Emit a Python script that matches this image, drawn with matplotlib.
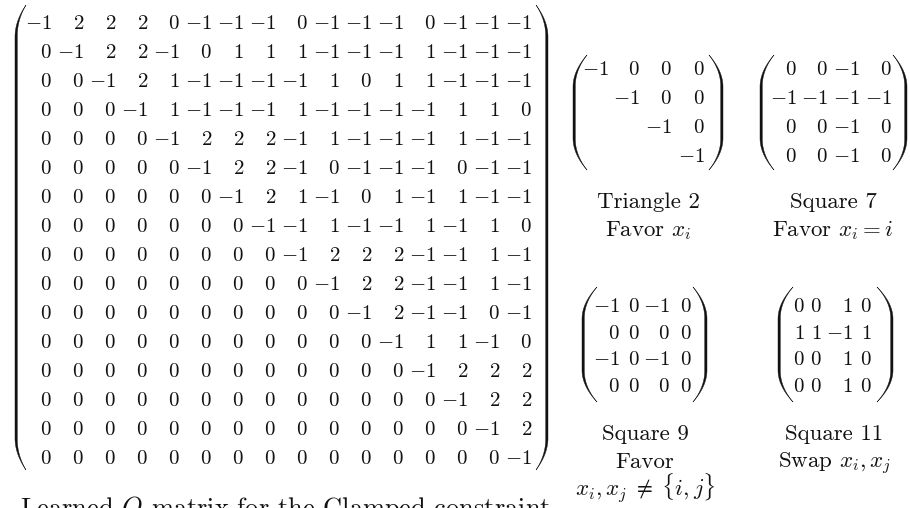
import numpy as np
import matplotlib
matplotlib.use("Agg")
import matplotlib.pyplot as plt
from matplotlib.patches import Polygon

plt.rcParams['mathtext.fontset'] = 'cm'

# ---------------- data ----------------
big_matrix = [
    [-1, 2, 2, 2, 0, -1, -1, -1, 0, -1, -1, -1, 0, -1, -1, -1],
    [0, -1, 2, 2, -1, 0, 1, 1, 1, -1, -1, -1, 1, -1, -1, -1],
    [0, 0, -1, 2, 1, -1, -1, -1, -1, 1, 0, 1, 1, -1, -1, -1],
    [0, 0, 0, -1, 1, -1, -1, -1, 1, -1, -1, -1, -1, 1, 1, 0],
    [0, 0, 0, 0, -1, 2, 2, 2, -1, 1, -1, -1, -1, 1, -1, -1],
    [0, 0, 0, 0, 0, -1, 2, 2, -1, 0, -1, -1, -1, 0, -1, -1],
    [0, 0, 0, 0, 0, 0, -1, 2, 1, -1, 0, 1, -1, 1, -1, -1],
    [0, 0, 0, 0, 0, 0, 0, -1, -1, 1, -1, -1, 1, -1, 1, 0],
    [0, 0, 0, 0, 0, 0, 0, 0, -1, 2, 2, 2, -1, -1, 1, -1],
    [0, 0, 0, 0, 0, 0, 0, 0, 0, -1, 2, 2, -1, -1, 1, -1],
    [0, 0, 0, 0, 0, 0, 0, 0, 0, 0, -1, 2, -1, -1, 0, -1],
    [0, 0, 0, 0, 0, 0, 0, 0, 0, 0, 0, -1, 1, 1, -1, 0],
    [0, 0, 0, 0, 0, 0, 0, 0, 0, 0, 0, 0, -1, 2, 2, 2],
    [0, 0, 0, 0, 0, 0, 0, 0, 0, 0, 0, 0, 0, -1, 2, 2],
    [0, 0, 0, 0, 0, 0, 0, 0, 0, 0, 0, 0, 0, 0, -1, 2],
    [0, 0, 0, 0, 0, 0, 0, 0, 0, 0, 0, 0, 0, 0, 0, -1],
]
triangle2 = [
    [-1, 0, 0, 0],
    [None, -1, 0, 0],
    [None, None, -1, 0],
    [None, None, None, -1],
]
square7 = [
    [0, 0, -1, 0],
    [-1, -1, -1, -1],
    [0, 0, -1, 0],
    [0, 0, -1, 0],
]
square9 = [
    [-1, 0, -1, 0],
    [0, 0, 0, 0],
    [-1, 0, -1, 0],
    [0, 0, 0, 0],
]
square11 = [
    [0, 0, 1, 0],
    [1, 1, -1, 1],
    [0, 0, 1, 0],
    [0, 0, 1, 0],
]
captions_triangle2 = ["Triangle 2", r"Favor $x_i$"]
captions_square7 = ["Square 7", r"Favor $x_i = i$"]
captions_square9 = ["Square 9", "Favor", r"$x_i, x_j\;\neq\;\{i, j\}$"]
captions_square11 = ["Square 11", r"Swap $x_i, x_j$"]
bottom_title = r"Learned $Q$ matrix for the Clamped constraint"

# ---------------- drawing ----------------
fig = plt.figure(figsize=(9.1, 5.08), dpi=100)
ax = fig.add_axes([0, 0, 1, 1])
ax.set_xlim(0, 910)
ax.set_ylim(508, 0)
ax.axis('off')

NUM_FS = 15.0
CAP_FS = 16.5
INK = '#111111'


def fmt(v):
    if v is None:
        return None
    return r'$%d$' % v if v >= 0 else r'$-%d$' % (-v)


def draw_entries(mat, col_right, row_center, fs=NUM_FS):
    digit_half = 0.66 * fs * 100 / 72 / 2
    for i, row in enumerate(mat):
        for j, v in enumerate(row):
            s = fmt(v)
            if s is None:
                continue
            ax.text(col_right[j], row_center[i] + digit_half, s, ha='right',
                    va='baseline', fontsize=fs, color=INK)


def paren(x_outer, x_tip, y_top, y_bot, r, th=2.3):
    sign = 1 if x_tip > x_outer else -1
    dx = x_tip - x_outer
    s = np.linspace(0, 1, 40)
    yt = y_top + r * (1 - s)
    yb = y_bot - r * (1 - s)
    xo = x_outer + dx * s ** 2
    xi = x_outer + sign * th * (1 - s ** 1.5) + dx * s ** 2
    top_outer = list(zip(xo, yt))[::-1]   # tip -> join
    bot_outer = list(zip(xo, yb))         # join -> tip
    bot_inner = list(zip(xi, yb))[::-1]   # tip -> join
    top_inner = list(zip(xi, yt))         # join -> tip
    poly = top_outer + bot_outer + bot_inner + top_inner
    ax.add_patch(Polygon(poly, closed=True, facecolor=INK, edgecolor=INK,
                         linewidth=0.3))


def matrix(mat, col_right, row_center, lp, rp, y_top, y_bot, r):
    draw_entries(mat, col_right, row_center)
    paren(lp[0], lp[1], y_top, y_bot, r)
    paren(rp[0], rp[1], y_top, y_bot, r)


# big matrix
n = len(big_matrix)
big_cols = [52 + 32 * j for j in range(n)]
big_rows = [22 + 29 * i for i in range(n)]
matrix(big_matrix, big_cols, big_rows, (15, 26), (548, 536), 5, 470, 32)

# small matrices
rows_top = [68 + 29 * i for i in range(4)]
rows_bot = [305 + 26.7 * i for i in range(4)]
matrix(triangle2, [609, 640, 672, 705], rows_top, (573, 587), (723, 709), 55, 170, 32)
matrix(square7, [797, 828, 860, 892], rows_top, (760, 774), (907, 893), 55, 170, 32)
matrix(square9, [620, 640, 670, 692], rows_bot, (582, 597), (707, 693), 287, 402, 32)
matrix(square11, [805, 822, 853, 872], rows_bot, (778, 793), (893, 877), 287, 402, 32)


def captions(lines, xc, y0, dy=28):
    for k, t in enumerate(lines):
        ax.text(xc, y0 + k * dy, t, ha='center', va='baseline', fontsize=CAP_FS,
                family='cmr10', color=INK)


captions(captions_triangle2, 648, 208)
captions(captions_square7, 833, 208)
captions(captions_square9, 645, 440)
captions(captions_square11, 834, 440)

ax.text(285, 516, bottom_title, ha='center', va='baseline', fontsize=19.0,
        family='cmr10', color=INK)

fig.savefig('out.png', dpi=100)
